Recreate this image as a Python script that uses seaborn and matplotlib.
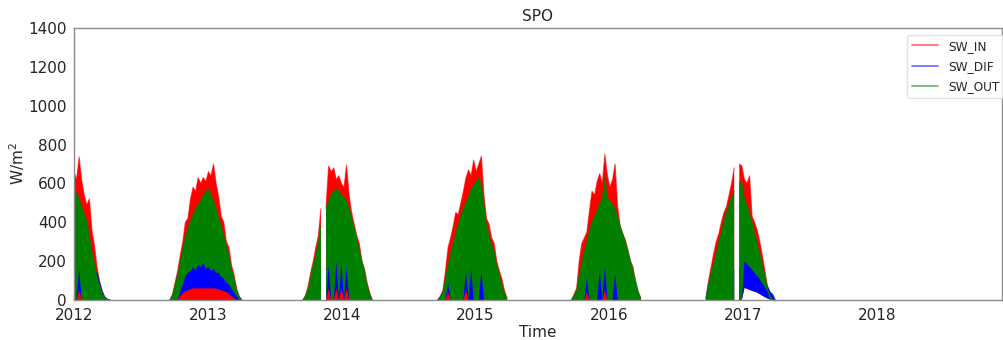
import numpy as np
import pandas as pd
import matplotlib
matplotlib.use("Agg")
import matplotlib.pyplot as plt
import matplotlib.dates as mdates
import seaborn as sns

# Austral-summer shortwave radiation at the South Pole, sampled weekly.
# Each season is an upper envelope (HI) and lower envelope (LO) in W/m2.
SEASON_START = ["2012-01-01", "2012-09-19", "2013-09-17",
                "2014-09-20", "2015-09-20", "2016-09-21"]
STEP = "7D"
nan = np.nan

SW_IN_HI = [
    [660, 620, 737, 617, 540, 490, 520, 360, 280, 170, 95, 45, 15, 4, 0],
    [0, 30, 90, 150, 230, 300, 400, 420, 520, 580, 560, 630, 600, 630, 610,
     660, 640, 700, 600, 530, 430, 400, 300, 270, 180, 130, 60, 20, 0],
    [0, 25, 70, 140, 200, 270, 330, 470, nan, 480, 690, 660, 680, 620, 640,
     600, 580, 695, 540, 450, 390, 330, 290, 200, 160, 90, 40, 0],
    [0, 20, 50, 150, 270, 320, 380, 450, 440, 500, 560, 630, 670, 640, 720,
     660, 700, 740, 540, 420, 390, 320, 290, 200, 150, 110, 50, 10],
    [0, 30, 60, 200, 290, 320, 350, 460, 560, 540, 610, 650, 600, 750, 640,
     580, 620, 700, 480, 380, 340, 310, 260, 200, 170, 90, 40, 10],
    [10, 100, 170, 240, 300, 340, 400, 450, 480, 540, 600, 680, nan, 700, 690,
     620, 600, 640, 430, 400, 360, 300, 230, 150, 70, 40, 17, 0],
]
SW_IN_LO = [
    [0] * 15,
    [0] * 29,
    [0, 0, 0, 0, 0, 0, 0, 0, nan, 0, 0, 0, 0, 0, 0, 0, 0, 0, 0, 0, 0, 0, 0, 0, 0, 0, 0, 0],
    [0] * 28,
    [0] * 28,
    [0, 0, 0, 0, 0, 0, 0, 0, 0, 0, 0, 0, nan, 0, 0,
     62, 58, 52, 47, 43, 38, 30, 22, 15, 8, 3, 0, 0],
]
SW_DIF_HI = [
    [120, 130, 170, 150, 140, 130, 140, 150, 150, 140, 90, 45, 15, 4, 0],
    [0, 20, 40, 50, 60, 100, 150, 180, 200, 220, 190, 230, 210, 240, 200,
     220, 180, 200, 170, 180, 160, 140, 120, 110, 90, 70, 40, 15, 0],
    [0, 15, 40, 80, 100, 120, 140, 150, nan, 160, 180, 200, 150, 220, 180,
     200, 160, 190, 150, 140, 120, 100, 90, 80, 60, 40, 20, 0],
    [0, 15, 35, 90, 120, 130, 140, 150, 140, 160, 150, 170, 150, 180, 160,
     170, 150, 160, 140, 130, 120, 100, 90, 70, 50, 30, 15, 0],
    [0, 15, 35, 80, 110, 130, 140, 150, 150, 160, 150, 170, 160, 180, 160,
     170, 150, 160, 140, 130, 120, 100, 90, 70, 50, 30, 15, 0],
    [5, 80, 100, 90, 100, 110, 120, 130, 140, 140, 150, 150, nan, 160, 170,
     230, 220, 200, 180, 165, 150, 130, 110, 90, 70, 40, 30, 0],
]
SW_DIF_LO = [
    [0, 0, 50, 0, 0, 0, 0, 0, 0, 0, 0, 0, 0, 0, 0],
    [0, 0, 0, 0, 20, 35, 45, 50, 55, 60, 60, 60, 60, 60, 60,
     60, 60, 60, 58, 55, 50, 45, 40, 30, 20, 10, 0, 0, 0],
    [0, 0, 0, 0, 0, 0, 0, 0, nan, 0, 60, 0, 0, 60, 0, 60, 0, 60, 0, 0, 0, 0, 0, 0, 0, 0, 0, 0],
    [0, 0, 0, 0, 40, 0, 0, 0, 0, 0, 0, 50, 0, 0, 0, 0, 0, 0, 0, 0, 0, 0, 0, 0, 0, 0, 0, 0],
    [0, 0, 0, 0, 0, 0, 40, 0, 0, 0, 0, 0, 0, 50, 0, 0, 0, 0, 0, 0, 0, 0, 0, 0, 0, 0, 0, 0],
    [0, 0, 0, 0, 0, 0, 0, 0, 0, 0, 0, 0, nan, 0, 0,
     62, 58, 52, 47, 43, 38, 30, 22, 15, 8, 3, 0, 0],
]
SW_OUT_HI = [
    [570, 550, 525, 480, 440, 410, 330, 250, 190, 120, 75, 35, 12, 3, 0],
    [0, 25, 75, 130, 195, 260, 320, 370, 410, 440, 470, 490, 510, 540, 560,
     570, 540, 510, 470, 420, 380, 330, 280, 230, 160, 110, 50, 15, 0],
    [0, 20, 55, 120, 180, 230, 300, 380, nan, 470, 510, 545, 560, 570, 560,
     540, 530, 510, 470, 420, 370, 320, 260, 200, 150, 80, 30, 0],
    [0, 15, 40, 110, 180, 240, 290, 340, 390, 440, 470, 500, 530, 570, 590,
     610, 630, 590, 490, 390, 330, 280, 250, 180, 130, 80, 35, 5],
    [0, 20, 45, 130, 190, 250, 300, 360, 400, 430, 460, 500, 520, 630, 520,
     510, 490, 470, 430, 380, 340, 300, 250, 200, 150, 100, 45, 10],
    [5, 80, 140, 190, 240, 300, 350, 410, 450, 490, 530, 560, nan, 610, 600,
     520, 490, 440, 400, 340, 290, 240, 180, 130, 60, 20, 5, 0],
]
SW_OUT_LO = [
    [0, 0, 160, 0, 0, 0, 0, 0, 0, 0, 0, 0, 0, 0, 0],
    [0, 0, 0, 0, 40, 80, 120, 140, 150, 170, 150, 180, 170, 190, 160,
     170, 150, 160, 140, 140, 120, 110, 90, 80, 60, 40, 20, 0, 0],
    [0, 0, 0, 0, 0, 0, 0, 0, nan, 0, 180, 0, 0, 200, 0, 190, 0, 170, 0, 0, 0, 0, 0, 0, 0, 0, 0, 0],
    [0, 0, 0, 0, 90, 0, 0, 0, 0, 0, 0, 150, 0, 160, 0, 0, 0, 150, 0, 0, 0, 0, 0, 0, 0, 0, 0, 0],
    [0, 0, 0, 0, 0, 0, 110, 0, 0, 0, 0, 150, 0, 170, 0, 0, 0, 140, 0, 0, 0, 0, 0, 0, 0, 0, 0, 0],
    [0, 0, 0, 0, 0, 0, 0, 0, 0, 0, 0, 0, nan, 0, 0,
     200, 185, 170, 155, 140, 125, 105, 85, 65, 45, 0, 0, 0],
]

SERIES = [("SW_IN", SW_IN_HI, SW_IN_LO, "red"),
          ("SW_DIF", SW_DIF_HI, SW_DIF_LO, "blue"),
          ("SW_OUT", SW_OUT_HI, SW_OUT_LO, "green")]


def build_frame(hi, lo):
    """Stack the seasons into one frame; a NaN row separates seasons and
    each run of valid samples gets its own segment id."""
    parts = []
    seg_base = 0
    for start, h, l in zip(SEASON_START, hi, lo):
        dates = pd.date_range(start, periods=len(h), freq=STEP)
        h = np.asarray(h, dtype=float)
        l = np.asarray(l, dtype=float)
        seg = seg_base + np.cumsum(np.isnan(h))
        parts.append(pd.DataFrame({"date": dates, "hi": h, "lo": l, "segment": seg}))
        parts.append(pd.DataFrame({"date": [dates[-1] + pd.Timedelta(days=1)],
                                   "hi": [nan], "lo": [nan], "segment": [seg[-1]]}))
        seg_base = seg[-1] + 1
    return pd.concat(parts, ignore_index=True)


sns.set_style("white")
plt.rcParams["font.family"] = ["DejaVu Sans"]
plt.rcParams["text.color"] = "#262626"
plt.rcParams["axes.labelcolor"] = "#262626"
plt.rcParams["xtick.color"] = "#262626"
plt.rcParams["ytick.color"] = "#262626"

fig = plt.figure(figsize=(10.04, 3.4), dpi=100)
ax = fig.add_axes([0.0737, 0.1176, 0.9243, 0.8])

handles = []
for i, (name, hi, lo, color) in enumerate(SERIES):
    df = build_frame(hi, lo)
    ax.fill_between(df["date"], df["lo"], df["hi"], color=color,
                    linewidth=0, zorder=2 + 2 * i)
    n_before = len(ax.lines)
    sns.lineplot(data=df.dropna(subset=["hi"]), x="date", y="hi",
                 units="segment", estimator=None, color=color,
                 alpha=0.6, linewidth=0.8, ax=ax, zorder=3 + 2 * i)
    handles.append(ax.lines[n_before])

ax.set_xlim(pd.Timestamp("2012-01-01"), pd.Timestamp("2018-12-08"))
ax.set_ylim(0, 1400)
ax.set_yticks(np.arange(0, 1401, 200))
ax.xaxis.set_major_locator(mdates.YearLocator())
ax.xaxis.set_major_formatter(mdates.DateFormatter("%Y"))

ax.set_title("SPO", fontsize=11, pad=5)
ax.set_xlabel("Time", fontsize=11, labelpad=1)
ax.set_ylabel("W/m$^2$", fontsize=11, labelpad=1)
ax.tick_params(axis="both", labelsize=11, length=3, width=0.8,
               color="#888888")
ax.tick_params(axis="x", pad=3)
ax.tick_params(axis="y", pad=2)

for spine in ax.spines.values():
    spine.set_color("#8c8c8c")
    spine.set_linewidth(1.0)
    spine.set_zorder(10)

leg = ax.legend(handles, [s[0] for s in SERIES], loc="upper right",
                bbox_to_anchor=(1.003, 0.975), fontsize=8.7, frameon=True,
                borderaxespad=0.0, handlelength=2.1, handletextpad=0.9,
                labelspacing=0.6)
leg.set_zorder(20)
leg.get_frame().set_edgecolor("#dddddd")
for h in leg.legend_handles:
    h.set_alpha(0.6)
    h.set_linewidth(1.2)

fig.savefig("out.png", dpi=100)
